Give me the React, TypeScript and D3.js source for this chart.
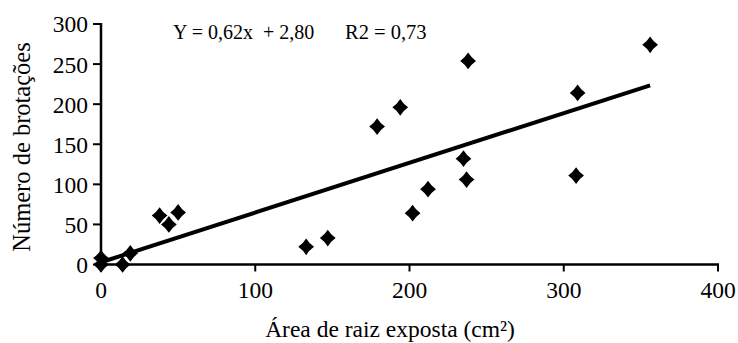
import React from "react";
import * as d3 from "d3";

const xValues = [0, 0, 14, 19, 38, 44, 50, 133, 147, 179, 194, 202, 212, 235, 237, 238, 308, 309, 356];
const yValues = [8, 0, 0, 14, 61, 50, 65, 22, 33, 172, 196, 64, 94, 132, 106, 254, 111, 214, 274];
const xTicks = [0, 100, 200, 300, 400];
const yTicks = [0, 50, 100, 150, 200, 250, 300];
const slope = 0.62;
const intercept = 2.8;
const equationText = "Y = 0,62x  + 2,80";
const r2Text = "R2 = 0,73";
const xTitle = "Área de raiz exposta (cm²)";
const yTitle = "Número de brotações";

const W = 738;
const H = 343;
const font = "Liberation Serif, Times New Roman, DejaVu Serif, serif";
const ts = { fontFamily: font, whiteSpace: "pre" as const };

const diamondType = {
  draw(ctx: any, size: number) {
    const h = Math.sqrt(size) / 2;
    const w = h * 0.94;
    const c = 0.8;
    ctx.moveTo(0, -h);
    ctx.quadraticCurveTo((w / 2) * c, (-h / 2) * c, w, 0);
    ctx.quadraticCurveTo((w / 2) * c, (h / 2) * c, 0, h);
    ctx.quadraticCurveTo((-w / 2) * c, (h / 2) * c, -w, 0);
    ctx.quadraticCurveTo((-w / 2) * c, (-h / 2) * c, 0, -h);
    ctx.closePath();
  },
};

export default function App() {
  const x = d3.scaleLinear().domain([0, 400]).range([101, 718]);
  const y = d3.scaleLinear().domain([0, 300]).range([264.5, 24]);
  const diamond = d3.symbol().type(diamondType as any).size(280)();
  const xMax = d3.max(xValues) as number;
  const line = d3.line<number>().x((d) => x(d)).y((d) => y(slope * d + intercept));
  return (
    <svg width={W} height={H} style={{ position: "absolute", left: 0, top: 0, background: "#fff" }}>
      <rect width={W} height={H} fill="#fff" />
      <line x1={x(0)} x2={x(0)} y1={y(300) - 1} y2={y(0)} stroke="#000" strokeWidth={2.5} />
      <line x1={x(0)} x2={x(400) + 1} y1={y(0)} y2={y(0)} stroke="#000" strokeWidth={2.5} />
      {yTicks.map((t) => (
        <g key={"y" + t}>
          <line x1={x(0) - 8} x2={x(0)} y1={y(t)} y2={y(t)} stroke="#000" strokeWidth={2} />
          <text x={x(0) - 13} y={y(t)} dy="0.36em" textAnchor="end" style={ts} fontSize={23.5} fill="#000">
            {t}
          </text>
        </g>
      ))}
      {xTicks.map((t) => (
        <g key={"x" + t}>
          <line x1={x(t)} x2={x(t)} y1={y(0)} y2={y(0) + 7} stroke="#000" strokeWidth={2} />
          <text x={x(t)} y={y(0) + 33} textAnchor="middle" style={ts} fontSize={23.5} fill="#000">
            {t}
          </text>
        </g>
      ))}
      <path d={line([0, xMax]) || ""} stroke="#000" strokeWidth={4} fill="none" />
      {xValues.map((v, i) => (
        <path key={i} d={diamond} transform={`translate(${x(v)},${y(yValues[i])})`} fill="#000" />
      ))}
      <text x={173} y={39} style={ts} fontSize={20} fill="#000">
        {equationText}
      </text>
      <text x={345} y={39} style={ts} fontSize={20.5} fill="#000">
        {r2Text}
      </text>
      <text x={390} y={337} textAnchor="middle" style={ts} fontSize={23.5} fill="#000">
        {xTitle}
      </text>
      <text transform={`translate(30,${147}) rotate(-90)`} textAnchor="middle" style={ts} fontSize={24.5} fill="#000">
        {yTitle}
      </text>
    </svg>
  );
}
